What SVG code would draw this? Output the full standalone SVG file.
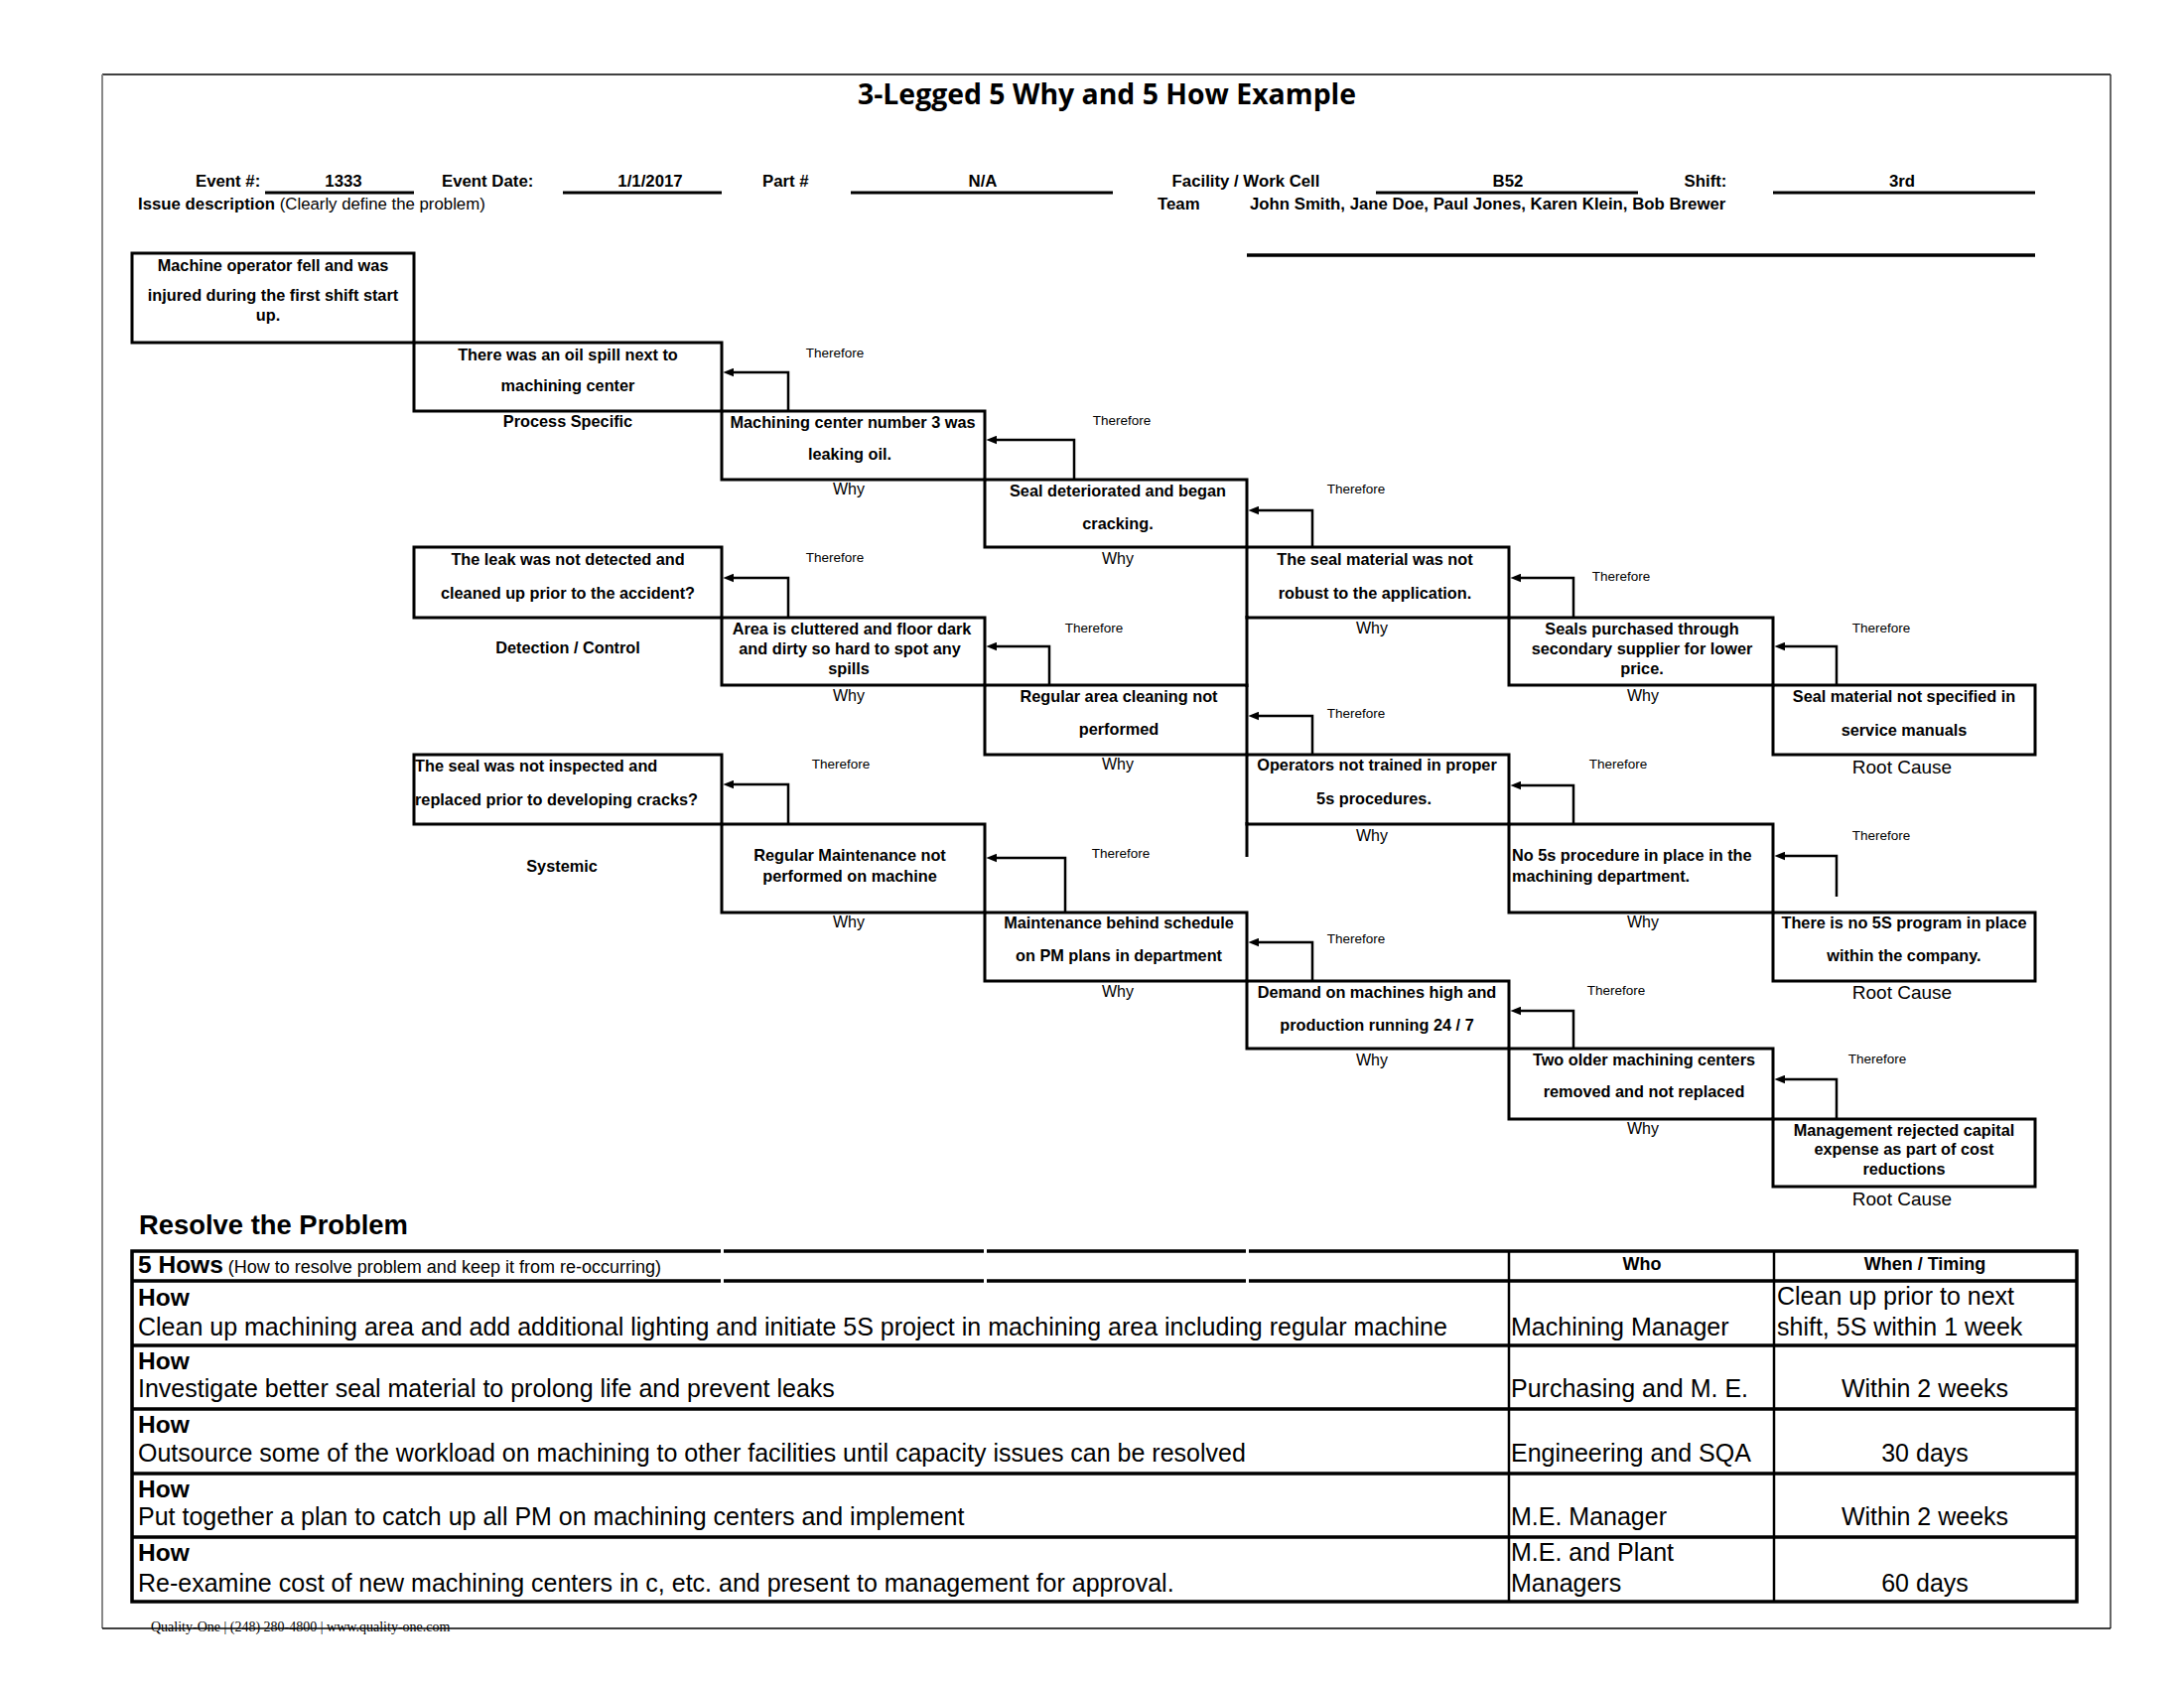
<svg xmlns="http://www.w3.org/2000/svg" width="2200" height="1700" viewBox="0 0 2200 1700">
<style>
  text{font-family:"Liberation Sans",Arial,sans-serif;fill:#000}
  .box{fill:none;stroke:#000;stroke-width:3}
  .bt{font-weight:bold;font-size:16.3px;text-anchor:middle}
  .bl{font-weight:bold;font-size:16.3px;text-anchor:start}
  .tf{font-size:13.5px;text-anchor:middle}
  .why{font-size:16px;text-anchor:middle}
  .rc{font-size:19px;text-anchor:middle}
  .hd{font-weight:bold;font-size:16.8px}
  .hc{font-weight:bold;font-size:16.8px;text-anchor:middle}
  .ul{stroke:#000;stroke-width:3}
  .arr{fill:none;stroke:#000;stroke-width:2.5;marker-end:url(#ah)}
  .tl{stroke:#000;stroke-width:3.5}
  .tv{stroke:#000;stroke-width:2.5}
  .how{font-weight:bold;font-size:24.5px}
  .td{font-size:25px}
  .tdc{font-size:25px;text-anchor:middle}
</style>
<defs>
  <marker id="ah" viewBox="0 0 10 8" refX="4" refY="4" markerWidth="11" markerHeight="9" markerUnits="userSpaceOnUse" orient="auto">
    <path d="M0,0 L10,4 L0,8 z" fill="#000"/>
  </marker>
</defs>
<rect width="2200" height="1700" fill="#fff"/>

<g id="page-border">
  <line x1="103" y1="75" x2="2126" y2="75" stroke="#000" stroke-width="1.5"/>
  <line x1="103" y1="75" x2="103" y2="1640" stroke="#888" stroke-width="2"/>
  <line x1="2126" y1="75" x2="2126" y2="1640" stroke="#333" stroke-width="1.5"/>
  <line x1="103" y1="1640" x2="2126" y2="1640" stroke="#000" stroke-width="1.5"/>
</g>

<g id="title">
  <text x="1115" y="105" style="font-family:'Open Sans','Liberation Sans',sans-serif;font-weight:bold;font-size:28.4px;text-anchor:middle">3-Legged 5 Why and 5 How Example</text>
</g>

<g id="header">
  <text class="hd" x="197" y="188">Event #:</text>
  <text class="hc" x="346" y="188">1333</text>
  <line class="ul" x1="267" y1="194" x2="417" y2="194"/>
  <text class="hd" x="445" y="188">Event Date:</text>
  <text class="hc" x="655" y="188">1/1/2017</text>
  <line class="ul" x1="567" y1="194" x2="727" y2="194"/>
  <text class="hd" x="768" y="188">Part #</text>
  <text class="hc" x="990" y="188">N/A</text>
  <line class="ul" x1="857" y1="194" x2="1121" y2="194"/>
  <text class="hc" x="1255" y="188">Facility / Work Cell</text>
  <text class="hc" x="1519" y="188">B52</text>
  <line class="ul" x1="1386" y1="194" x2="1650" y2="194"/>
  <text class="hc" x="1718" y="188">Shift:</text>
  <text class="hc" x="1916" y="188">3rd</text>
  <line class="ul" x1="1786" y1="194" x2="2050" y2="194"/>
  <text x="139" y="211" style="font-size:16.8px"><tspan font-weight="bold">Issue description</tspan> (Clearly define the problem)</text>
  <text class="hd" x="1166" y="211">Team</text>
  <text class="hd" x="1259" y="211">John Smith, Jane Doe, Paul Jones, Karen Klein, Bob Brewer</text>
  <line x1="1256" y1="257" x2="2050" y2="257" stroke="#000" stroke-width="3.5"/>
</g>

<g id="leg-labels">
  <text class="bt" x="572" y="430">Process Specific</text>
  <text class="bt" x="572" y="658">Detection / Control</text>
  <text class="bt" x="566" y="878">Systemic</text>
</g>

<g id="n-problem">
  <rect class="box" x="133" y="255" width="284" height="90"/>
  <text class="bt" x="275" y="273">Machine operator fell and was</text>
  <text class="bt" x="275" y="303">injured during the first shift start</text>
  <text class="bt" x="270" y="323">up.</text>
</g>

<g id="n-p1">
  <rect class="box" x="417" y="345" width="310" height="69"/>
  <text class="bt" x="572" y="363">There was an oil spill next to</text>
  <text class="bt" x="572" y="394">machining center</text>
</g>
<g id="n-p2">
  <rect class="box" x="727" y="414" width="265" height="69"/>
  <text class="bt" x="859" y="431">Machining center number 3 was</text>
  <text class="bt" x="856" y="463">leaking oil.</text>
</g>
<g id="n-p3">
  <rect class="box" x="992" y="483" width="264" height="68"/>
  <text class="bt" x="1126" y="500">Seal deteriorated and began</text>
  <text class="bt" x="1126" y="533">cracking.</text>
</g>
<g id="n-p4">
  <rect class="box" x="1256" y="551" width="264" height="71"/>
  <text class="bt" x="1385" y="569">The seal material was not</text>
  <text class="bt" x="1385" y="603">robust to the application.</text>
</g>
<g id="n-p5">
  <rect class="box" x="1520" y="622" width="266" height="68"/>
  <text class="bt" x="1654" y="639">Seals purchased through</text>
  <text class="bt" x="1654" y="659">secondary supplier for lower</text>
  <text class="bt" x="1654" y="679">price.</text>
</g>
<g id="n-p6">
  <rect class="box" x="1786" y="690" width="264" height="70"/>
  <text class="bt" x="1918" y="707">Seal material not specified in</text>
  <text class="bt" x="1918" y="741">service manuals</text>
</g>

<g id="n-d1">
  <rect class="box" x="417" y="551" width="310" height="71"/>
  <text class="bt" x="572" y="569">The leak was not detected and</text>
  <text class="bt" x="572" y="603">cleaned up prior to the accident?</text>
</g>
<g id="n-d2">
  <rect class="box" x="727" y="622" width="265" height="68"/>
  <text class="bt" x="858" y="639">Area is cluttered and floor dark</text>
  <text class="bt" x="856" y="659">and dirty so hard to spot any</text>
  <text class="bt" x="855" y="679">spills</text>
</g>
<g id="n-d3">
  <rect class="box" x="992" y="690" width="264" height="70"/>
  <text class="bt" x="1127" y="707">Regular area cleaning not</text>
  <text class="bt" x="1127" y="740">performed</text>
</g>
<g id="n-d4">
  <rect class="box" x="1256" y="760" width="264" height="70"/>
  <text class="bt" x="1387" y="776">Operators not trained in proper</text>
  <text class="bt" x="1384" y="810">5s procedures.</text>
</g>
<g id="n-d5">
  <rect class="box" x="1520" y="830" width="266" height="89"/>
  <text class="bl" x="1523" y="867">No 5s procedure in place in the</text>
  <text class="bl" x="1523" y="888">machining department.</text>
</g>
<g id="n-d6">
  <rect class="box" x="1786" y="919" width="264" height="69"/>
  <text class="bt" x="1918" y="935">There is no 5S program in place</text>
  <text class="bt" x="1918" y="968">within the company.</text>
</g>

<g id="n-s1">
  <rect class="box" x="417" y="760" width="310" height="70"/>
  <text class="bl" x="418" y="777">The seal was not inspected and</text>
  <text class="bl" x="418" y="811">replaced prior to developing cracks?</text>
</g>
<g id="n-s2">
  <rect class="box" x="727" y="830" width="265" height="89"/>
  <text class="bt" x="856" y="867">Regular Maintenance not</text>
  <text class="bt" x="856" y="888">performed on machine</text>
</g>
<g id="n-s3">
  <rect class="box" x="992" y="919" width="264" height="69"/>
  <text class="bt" x="1127" y="935">Maintenance behind schedule</text>
  <text class="bt" x="1127" y="968">on PM plans in department</text>
</g>
<g id="n-s4">
  <rect class="box" x="1256" y="988" width="264" height="68"/>
  <text class="bt" x="1387" y="1005">Demand on machines high and</text>
  <text class="bt" x="1387" y="1038">production running 24 / 7</text>
</g>
<g id="n-s5">
  <rect class="box" x="1520" y="1056" width="266" height="71"/>
  <text class="bt" x="1656" y="1073">Two older machining centers</text>
  <text class="bt" x="1656" y="1105">removed and not replaced</text>
</g>
<g id="n-s6">
  <rect class="box" x="1786" y="1127" width="264" height="68"/>
  <text class="bt" x="1918" y="1144">Management rejected capital</text>
  <text class="bt" x="1918" y="1163">expense as part of cost</text>
  <text class="bt" x="1918" y="1183">reductions</text>
</g>

<g id="grid-lines">
  <line x1="1256" y1="620" x2="1256" y2="692" stroke="#000" stroke-width="3"/>
  <line x1="1256" y1="828" x2="1256" y2="863" stroke="#000" stroke-width="3"/>
</g>

<g id="why-labels">
  <text class="why" x="855" y="498">Why</text>
  <text class="why" x="1126" y="568">Why</text>
  <text class="why" x="1382" y="638">Why</text>
  <text class="why" x="1655" y="706">Why</text>
  <text class="why" x="855" y="706">Why</text>
  <text class="why" x="1126" y="775">Why</text>
  <text class="why" x="1382" y="847">Why</text>
  <text class="why" x="1655" y="934">Why</text>
  <text class="why" x="855" y="934">Why</text>
  <text class="why" x="1126" y="1004">Why</text>
  <text class="why" x="1382" y="1073">Why</text>
  <text class="why" x="1655" y="1142">Why</text>
  <text class="rc" x="1916" y="779">Root Cause</text>
  <text class="rc" x="1916" y="1006">Root Cause</text>
  <text class="rc" x="1916" y="1214">Root Cause</text>
</g>

<g id="connectors">
  <path class="arr" d="M794,414 V375 H735"/>
  <path class="arr" d="M1082,483 V443 H1000"/>
  <path class="arr" d="M1322,551 V514 H1264"/>
  <path class="arr" d="M1585,622 V582 H1528"/>
  <path class="arr" d="M1850,690 V651 H1794"/>
  <path class="arr" d="M794,622 V582 H735"/>
  <path class="arr" d="M1057,690 V651 H1000"/>
  <path class="arr" d="M1322,760 V721 H1264"/>
  <path class="arr" d="M1585,830 V791 H1528"/>
  <path class="arr" d="M1850,903 V862 H1794"/>
  <path class="arr" d="M794,830 V790 H735"/>
  <path class="arr" d="M1073,919 V864 H1000"/>
  <path class="arr" d="M1322,988 V949 H1264"/>
  <path class="arr" d="M1585,1056 V1018 H1528"/>
  <path class="arr" d="M1850,1127 V1087 H1794"/>
  <text class="tf" x="841" y="360">Therefore</text>
  <text class="tf" x="1130" y="428">Therefore</text>
  <text class="tf" x="1366" y="497">Therefore</text>
  <text class="tf" x="1633" y="585">Therefore</text>
  <text class="tf" x="1895" y="637">Therefore</text>
  <text class="tf" x="841" y="566">Therefore</text>
  <text class="tf" x="1102" y="637">Therefore</text>
  <text class="tf" x="1366" y="723">Therefore</text>
  <text class="tf" x="1630" y="774">Therefore</text>
  <text class="tf" x="1895" y="846">Therefore</text>
  <text class="tf" x="847" y="774">Therefore</text>
  <text class="tf" x="1129" y="864">Therefore</text>
  <text class="tf" x="1366" y="950">Therefore</text>
  <text class="tf" x="1628" y="1002">Therefore</text>
  <text class="tf" x="1891" y="1071">Therefore</text>
</g>

<g id="resolve">
  <text x="140" y="1243" style="font-weight:bold;font-size:27.4px">Resolve the Problem</text>
  <rect x="133" y="1260" width="1959" height="353" fill="none" stroke="#000" stroke-width="3.5"/>
  <line class="tl" x1="133" y1="1290" x2="2092" y2="1290"/>
  <line class="tl" x1="133" y1="1355" x2="2092" y2="1355"/>
  <line class="tl" x1="133" y1="1419" x2="2092" y2="1419"/>
  <line class="tl" x1="133" y1="1484" x2="2092" y2="1484"/>
  <line class="tl" x1="133" y1="1548" x2="2092" y2="1548"/>
  <line class="tv" x1="1520" y1="1260" x2="1520" y2="1613"/>
  <line class="tv" x1="1787" y1="1260" x2="1787" y2="1613"/>
  <g fill="#fff">
    <rect x="726" y="1257" width="3" height="6"/>
    <rect x="991" y="1257" width="3" height="6"/>
    <rect x="1255" y="1257" width="3" height="6"/>
    <rect x="726" y="1287" width="3" height="6"/>
    <rect x="991" y="1287" width="3" height="6"/>
    <rect x="1255" y="1287" width="3" height="6"/>
  </g>
  <text x="139" y="1282"><tspan style="font-weight:bold;font-size:24.5px">5 Hows</tspan><tspan style="font-size:18px"> (How to resolve problem and keep it from re-occurring)</tspan></text>
  <text x="1654" y="1279" style="font-weight:bold;font-size:18px;text-anchor:middle">Who</text>
  <text x="1939" y="1279" style="font-weight:bold;font-size:18px;text-anchor:middle">When / Timing</text>

  <text class="how" x="139" y="1315">How</text>
  <text class="td" x="139" y="1345">Clean up machining area and add additional lighting and initiate 5S project in machining area including regular machine</text>
  <text class="td" x="1522" y="1345">Machining Manager</text>
  <text class="td" x="1790" y="1314">Clean up prior to next</text>
  <text class="td" x="1790" y="1345">shift, 5S within 1 week</text>

  <text class="how" x="139" y="1379">How</text>
  <text class="td" x="139" y="1407">Investigate better seal material to prolong life and prevent leaks</text>
  <text class="td" x="1522" y="1407">Purchasing and M. E.</text>
  <text class="tdc" x="1939" y="1407">Within 2 weeks</text>

  <text class="how" x="139" y="1443">How</text>
  <text class="td" x="139" y="1472">Outsource some of the workload on machining to other facilities until capacity issues can be resolved</text>
  <text class="td" x="1522" y="1472">Engineering and SQA</text>
  <text class="tdc" x="1939" y="1472">30 days</text>

  <text class="how" x="139" y="1508">How</text>
  <text class="td" x="139" y="1536">Put together a plan to catch up all PM on machining centers and implement</text>
  <text class="td" x="1522" y="1536">M.E. Manager</text>
  <text class="tdc" x="1939" y="1536">Within 2 weeks</text>

  <text class="how" x="139" y="1572">How</text>
  <text class="td" x="139" y="1603">Re-examine cost of new machining centers in c, etc. and present to management for approval.</text>
  <text class="td" x="1522" y="1572">M.E. and Plant</text>
  <text class="td" x="1522" y="1603">Managers</text>
  <text class="tdc" x="1939" y="1603">60 days</text>
</g>

<g id="footer">
  <text x="152" y="1643" style="font-family:'Liberation Serif','Times New Roman',serif;font-size:14px">Quality-One | (248) 280-4800 | www.quality-one.com</text>
</g>
</svg>
